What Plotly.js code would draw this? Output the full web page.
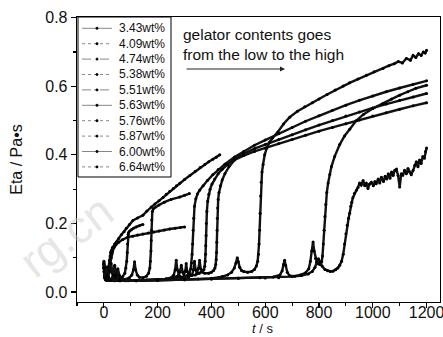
<!DOCTYPE html>
<html>
<head>
<meta charset="utf-8">
<script src="https://cdn.plot.ly/plotly-3.0.1.min.js"></script>
<style>html,body{margin:0;padding:0;background:#fff;}#chart{width:443px;height:337px;}</style>
</head>
<body>
<div id="chart"></div>
<script>
// ---- data ----
const seriesNames = ["3.43wt%","4.09wt%","4.74wt%","5.38wt%","5.51wt%","5.63wt%","5.76wt%","5.87wt%","6.00wt%","6.64wt%"];

const t343 = [0,3,6,10,14,18,21,23,25,27,32,40,46,55,65,75,83,95,108,125,145,160,176,190,205,220,232,245,258,270,282,300,320,340,358,375,390,405,418,431];
const eta343 = [0.09,0.06,0.045,0.055,0.065,0.075,0.093,0.105,0.115,0.12,0.13,0.14,0.146,0.156,0.167,0.176,0.186,0.197,0.209,0.216,0.224,0.236,0.248,0.257,0.266,0.276,0.285,0.294,0.302,0.31,0.317,0.328,0.34,0.352,0.363,0.372,0.38,0.387,0.393,0.40];

const t409 = [0,3,6,10,15,20,24,27,30,33,38,45,55,70,89,107,125,145,165,185,205,225,245,265,285,300];
const eta409 = [0.08,0.05,0.04,0.05,0.06,0.07,0.085,0.1,0.112,0.12,0.13,0.138,0.145,0.153,0.16,0.163,0.166,0.169,0.172,0.175,0.178,0.181,0.184,0.186,0.188,0.19];

const t474 = [0,3,6,10,20,30,36,40,44,50,60,70,78,82,85,87,88,89,90,92,96,102,110,120,132,145];
const eta474 = [0.07,0.045,0.036,0.034,0.035,0.038,0.05,0.075,0.052,0.042,0.041,0.045,0.055,0.07,0.09,0.115,0.14,0.16,0.168,0.174,0.178,0.182,0.186,0.19,0.193,0.197];

const t538 = [0,3,7,12,17,25,40,60,80,95,104,110,114,118,124,132,145,158,166,171,173,175,176,177,178,180,184,192,205,225,250,282,300,318];
const eta538 = [0.085,0.05,0.04,0.06,0.04,0.035,0.034,0.035,0.037,0.042,0.05,0.065,0.088,0.065,0.05,0.043,0.042,0.046,0.055,0.07,0.09,0.12,0.15,0.18,0.21,0.235,0.243,0.248,0.254,0.262,0.27,0.277,0.282,0.287];

const t551 = [0,3,6,9,13,20,40,80,120,160,200,230,250,260,265,269,273,280,290,300,310,318,323,326,328,330,332,334,337,342,348,356,369,385,405,425,450,486,520,560,600,650,700,750,800,850,900,950,1000,1050,1100,1150,1200];
const eta551 = [0.08,0.05,0.045,0.073,0.045,0.034,0.033,0.033,0.034,0.035,0.036,0.038,0.042,0.05,0.065,0.093,0.065,0.048,0.043,0.044,0.048,0.055,0.068,0.085,0.11,0.14,0.18,0.215,0.25,0.272,0.286,0.297,0.31,0.325,0.342,0.357,0.373,0.394,0.41,0.428,0.443,0.462,0.48,0.498,0.514,0.53,0.545,0.559,0.572,0.584,0.595,0.606,0.616];

const t563 = [0,3,6,10,16,22,27,32,38,50,90,140,190,230,260,275,282,288,293,298,303,306,310,316,325,340,355,365,372,375,377,378,379,380,381,383,386,390,395,402,412,425,440,460,486,520,560,600,650,700,750,800,850,900,950,1000,1050,1100,1150,1200];
const eta563 = [0.075,0.045,0.04,0.05,0.045,0.06,0.083,0.055,0.04,0.034,0.033,0.034,0.036,0.038,0.042,0.047,0.058,0.078,0.058,0.05,0.062,0.083,0.06,0.05,0.048,0.05,0.055,0.06,0.066,0.075,0.09,0.11,0.135,0.165,0.2,0.235,0.265,0.285,0.3,0.315,0.33,0.345,0.358,0.372,0.39,0.403,0.418,0.43,0.445,0.459,0.473,0.487,0.5,0.513,0.525,0.537,0.548,0.559,0.569,0.579];

const t576 = [0,3,6,12,20,30,40,46,52,58,65,100,150,200,250,290,315,328,333,337,341,346,352,356,360,366,375,390,400,408,413,416,418,419,420,421,422,423,425,428,433,440,450,465,486,520,560,600,650,700,750,800,850,900,950,1000,1050,1100,1150,1200];
const eta576 = [0.07,0.045,0.038,0.036,0.035,0.036,0.045,0.055,0.068,0.048,0.038,0.034,0.034,0.036,0.038,0.041,0.044,0.05,0.065,0.09,0.065,0.055,0.07,0.093,0.068,0.058,0.055,0.055,0.058,0.063,0.07,0.08,0.095,0.115,0.145,0.18,0.215,0.245,0.27,0.29,0.31,0.327,0.345,0.365,0.385,0.398,0.41,0.42,0.433,0.445,0.457,0.469,0.48,0.491,0.502,0.513,0.523,0.533,0.543,0.552];

const t587 = [0,3,6,10,15,20,28,34,40,46,55,100,150,200,250,300,350,400,440,460,475,485,491,496,500,505,512,520,535,550,560,567,572,575,577,579,581,583,585,588,592,598,606,616,628,647,668,691,720,747,775,800,830,860,890,914,945,976,1005,1038,1060,1080,1095,1110,1125,1140,1150,1160,1170,1180,1188,1195,1200];
const eta587 = [0.085,0.05,0.04,0.036,0.045,0.04,0.035,0.05,0.078,0.05,0.038,0.034,0.034,0.035,0.036,0.037,0.038,0.04,0.045,0.05,0.058,0.07,0.085,0.1,0.088,0.072,0.063,0.06,0.058,0.06,0.066,0.076,0.09,0.11,0.14,0.18,0.23,0.28,0.32,0.35,0.372,0.4,0.42,0.437,0.45,0.467,0.49,0.51,0.527,0.54,0.552,0.563,0.576,0.589,0.601,0.61,0.621,0.632,0.642,0.652,0.66,0.666,0.672,0.668,0.681,0.676,0.69,0.684,0.695,0.69,0.7,0.697,0.705];

const t600 = [0,3,6,10,16,25,60,120,200,300,400,500,600,650,700,730,750,762,768,773,778,782,787,792,798,805,810,813,816,819,822,825,829,834,840,846,858,877,895,914,939,965,1000,1038,1070,1100,1130,1160,1200];
const eta600 = [0.07,0.045,0.04,0.052,0.04,0.034,0.033,0.033,0.034,0.036,0.038,0.04,0.041,0.042,0.045,0.05,0.056,0.068,0.09,0.12,0.146,0.12,0.098,0.087,0.082,0.08,0.088,0.105,0.14,0.18,0.22,0.255,0.29,0.318,0.343,0.365,0.395,0.43,0.455,0.475,0.5,0.518,0.535,0.55,0.563,0.574,0.584,0.594,0.603];

const t664 = [0,3,6,10,15,25,60,120,200,300,400,500,580,630,655,663,668,672,676,682,690,710,735,760,775,785,792,798,804,812,822,832,842,852,862,870,877,884,890,895,900,905,910,914,918,922,926,932,939,945,951,957,964,970,976,982,988,995,1002,1008,1013,1020,1026,1032,1040,1046,1052,1058,1064,1070,1076,1082,1088,1094,1100,1106,1112,1118,1125,1131,1137,1143,1150,1156,1162,1168,1174,1180,1186,1192,1196,1200];
const eta664 = [0.06,0.04,0.036,0.045,0.038,0.034,0.033,0.033,0.034,0.036,0.038,0.04,0.042,0.044,0.05,0.062,0.08,0.093,0.078,0.058,0.048,0.046,0.048,0.053,0.06,0.072,0.088,0.097,0.088,0.075,0.066,0.062,0.06,0.061,0.065,0.07,0.078,0.09,0.11,0.14,0.17,0.195,0.215,0.23,0.25,0.262,0.275,0.288,0.297,0.305,0.318,0.312,0.325,0.31,0.318,0.302,0.315,0.32,0.31,0.322,0.316,0.33,0.318,0.335,0.322,0.338,0.33,0.345,0.332,0.35,0.34,0.355,0.358,0.34,0.306,0.345,0.341,0.355,0.345,0.36,0.35,0.342,0.355,0.37,0.38,0.365,0.385,0.375,0.395,0.39,0.41,0.42];

const xTickVals = [0,200,400,600,800,1000,1200];
const yTickVals = [0.0,0.2,0.4,0.6,0.8];

// ---- styles ----
const FONT = "Liberation Sans, Arial, sans-serif";
const legendDash = ["solid","dot","dash","dot","dashdot","solid","dot","dot","solid","dot"];

const times = [t343,t409,t474,t538,t551,t563,t576,t587,t600,t664];
const etas  = [eta343,eta409,eta474,eta538,eta551,eta563,eta576,eta587,eta600,eta664];

const traces = seriesNames.map((n,i)=>({
  type:"scatter", mode:"lines+markers", name:n, x:times[i], y:etas[i],
  line:{color:"#111", width:2.4},
  marker:{color:"#000", size:3},
  showlegend:false
}));

// manual legend (box + samples + labels), in paper coordinates
const L = 77, R = 440, T = 17, B = 302;
const W = R - L, H = B - T;
const px = x => (x - L) / W;
const py = y => (B - y) / H;

const shapes = [{type:"rect", xref:"paper", yref:"paper", x0:px(78), x1:px(171), y0:py(177), y1:py(17),
  line:{color:"#000", width:1}, fillcolor:"rgba(255,255,255,1)", layer:"above"}];
const annotations = [];
seriesNames.forEach((n,i)=>{
  const yy = 28.3 + 15.4*i;
  shapes.push({type:"line", xref:"paper", yref:"paper", x0:px(82), x1:px(112), y0:py(yy), y1:py(yy),
    line:{color:"#888", width:1, dash:legendDash[i]}, layer:"above"});
  shapes.push({type:"circle", xref:"paper", yref:"paper", x0:px(95.8), x1:px(98.2), y0:py(yy+1.2), y1:py(yy-1.2),
    line:{color:"#000", width:0.5}, fillcolor:"#000", layer:"above"});
  annotations.push({xref:"paper", yref:"paper", x:px(117), y:py(yy), xanchor:"left", yanchor:"middle",
    text:n, showarrow:false, font:{family:FONT, size:12, color:"#111"}});
});

annotations.push({xref:"paper", yref:"paper", x:px(181), y:py(24), xanchor:"left", yanchor:"top", align:"left",
  text:"gelator contents goes<br>from the low to the high", showarrow:false,
  font:{family:FONT, size:15.5, color:"#111"}});
annotations.push({xref:"paper", yref:"paper", x:px(285), y:py(69), axref:"paper", ayref:"paper",
  ax:px(185), ay:py(69), text:"", showarrow:true, arrowhead:2, arrowsize:1, arrowwidth:1, arrowcolor:"#222"});
// x-axis title, kept fully inside the bottom edge
annotations.push({xref:"paper", yref:"paper", x:px(262), y:py(337), xanchor:"center", yanchor:"bottom",
  text:"<i>t</i> / s", showarrow:false, borderpad:0, font:{family:FONT, size:13, color:"#111"}});
// watermark
annotations.push({xref:"paper", yref:"paper", x:px(66), y:py(236), xanchor:"center", yanchor:"middle",
  text:"rg.cn", showarrow:false, textangle:-37, font:{family:FONT, size:46, color:"rgba(200,200,200,0.45)"}});

const layout = {
  width:443, height:337,
  margin:{l:77, r:3, t:17, b:35},
  paper_bgcolor:"#fff", plot_bgcolor:"#fff",
  showlegend:false,
  font:{family:FONT, color:"#111"},
  xaxis:{range:[-100,1250], tickvals:xTickVals, ticks:"outside", ticklen:5, tickwidth:1.2, tickcolor:"#000",
    showline:true, linecolor:"#000", linewidth:1.3, mirror:true, showgrid:false, zeroline:false,
    ticklabeloverflow:"allow", ticklabelstandoff:-10,
    minor:{dtick:100, tick0:0, ticks:"outside", ticklen:3, tickcolor:"#000", showgrid:false},
    tickfont:{family:FONT, size:16, color:"#111"}},
  yaxis:{range:[-0.029,0.802], tickvals:yTickVals, tickformat:".1f", ticks:"outside", ticklen:5, tickwidth:1.2, tickcolor:"#000",
    showline:true, linecolor:"#000", linewidth:1.3, mirror:true, showgrid:false, zeroline:false,
    minor:{dtick:0.1, tick0:0, ticks:"outside", ticklen:3, tickcolor:"#000", showgrid:false},
    tickfont:{family:FONT, size:16, color:"#111"},
    title:{text:"Eta / Pa\u2022s", font:{family:FONT, size:16, color:"#111"}, standoff:18}},
  shapes:shapes,
  annotations:annotations
};

Plotly.newPlot("chart", traces, layout, {displayModeBar:false, staticPlot:true});
</script>
</body>
</html>
